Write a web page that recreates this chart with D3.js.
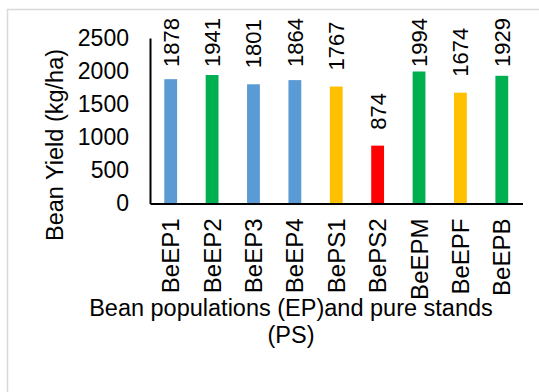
<!DOCTYPE html>
<html>
<head>
<meta charset="utf-8">
<script src="https://cdn.jsdelivr.net/npm/d3@7"></script>
<style>
  html, body { margin: 0; padding: 0; background: #fff; }
  svg { display: block; font-family: Arial, "Liberation Sans", sans-serif; }
</style>
</head>
<body>
<svg id="chart" width="539" height="392"></svg>
<script>
// Bean yield per population / pure stand
const categories = ["BeEP1", "BeEP2", "BeEP3", "BeEP4", "BePS1", "BePS2", "BeEPM", "BeEPF", "BeEPB"];
const yields = [1878, 1941, 1801, 1864, 1767, 874, 1994, 1674, 1929];
const barColors = ["#5B9BD5", "#00B050", "#5B9BD5", "#5B9BD5", "#FFC000", "#FF0000", "#00B050", "#FFC000", "#00B050"];
const yTicks = [0, 500, 1000, 1500, 2000, 2500];

const FONT = "Arial, 'Liberation Sans', sans-serif";
const svg = d3.select("#chart");

// chart area frame
svg.append("rect")
  .attr("x", 7.5).attr("y", 9.5)
  .attr("width", 560).attr("height", 400)
  .attr("fill", "#fff").attr("stroke", "#d9d9d9").attr("stroke-width", 1.5);

const plot = { left: 150, right: 522.5, top: 38, bottom: 203.5 };

const x = d3.scaleBand()
  .domain(categories)
  .range([plot.left, plot.right])
  .paddingInner(0.69).paddingOuter(0.345);

const y = d3.scaleLinear()
  .domain([0, 2500])
  .range([plot.bottom, plot.top]);

// bars
svg.append("g").selectAll("rect")
  .data(categories)
  .join("rect")
  .attr("x", d => x(d))
  .attr("width", x.bandwidth())
  .attr("y", (d, i) => y(yields[i]))
  .attr("height", (d, i) => plot.bottom - y(yields[i]))
  .attr("fill", (d, i) => barColors[i]);

// value labels, rotated above each bar; kept inside the chart's top edge
const labelTop = 18;
svg.append("g").selectAll("text")
  .data(categories)
  .join("text")
  .attr("font-size", 22)
  .attr("fill", "#000")
  .text((d, i) => yields[i])
  .attr("transform", function (d, i) {
    const len = this.getComputedTextLength();
    const base = Math.max(y(yields[i]) - 16, labelTop + len);
    return `translate(${x(d) + x.bandwidth() / 2 + 8},${base}) rotate(-90)`;
  });

// y axis
const yAxis = svg.append("g")
  .attr("transform", `translate(${plot.left},0)`)
  .call(d3.axisLeft(y).tickValues(yTicks).tickSize(0).tickPadding(21).tickFormat(d3.format("d")));
yAxis.select(".domain").attr("stroke", "#000").attr("stroke-width", 2);
yAxis.selectAll("text").attr("font-size", 23).attr("fill", "#000").attr("font-family", FONT);

// x axis
const xAxis = svg.append("g")
  .attr("transform", `translate(0,${plot.bottom})`)
  .call(d3.axisBottom(x).tickSize(0).tickPadding(0));
xAxis.select(".domain").attr("stroke", "#000").attr("stroke-width", 2);
xAxis.selectAll("text")
  .attr("font-size", 24).attr("fill", "#000")
  .attr("font-family", FONT)
  .attr("text-anchor", "end")
  .attr("y", 0)
  .attr("dy", null)
  .attr("transform", "translate(8.5,15) rotate(-90)");

// axis titles
svg.append("text")
  .attr("transform", "translate(63,145) rotate(-90)")
  .attr("text-anchor", "middle")
  .attr("font-size", 23.5)
  .text("Bean Yield (kg/ha)");

const xTitle = svg.append("text")
  .attr("text-anchor", "middle")
  .attr("font-size", 23.5);
xTitle.append("tspan").attr("x", 291).attr("y", 316).text("Bean populations (EP)and pure stands");
xTitle.append("tspan").attr("x", 291).attr("y", 343).text("(PS)");
</script>
</body>
</html>
